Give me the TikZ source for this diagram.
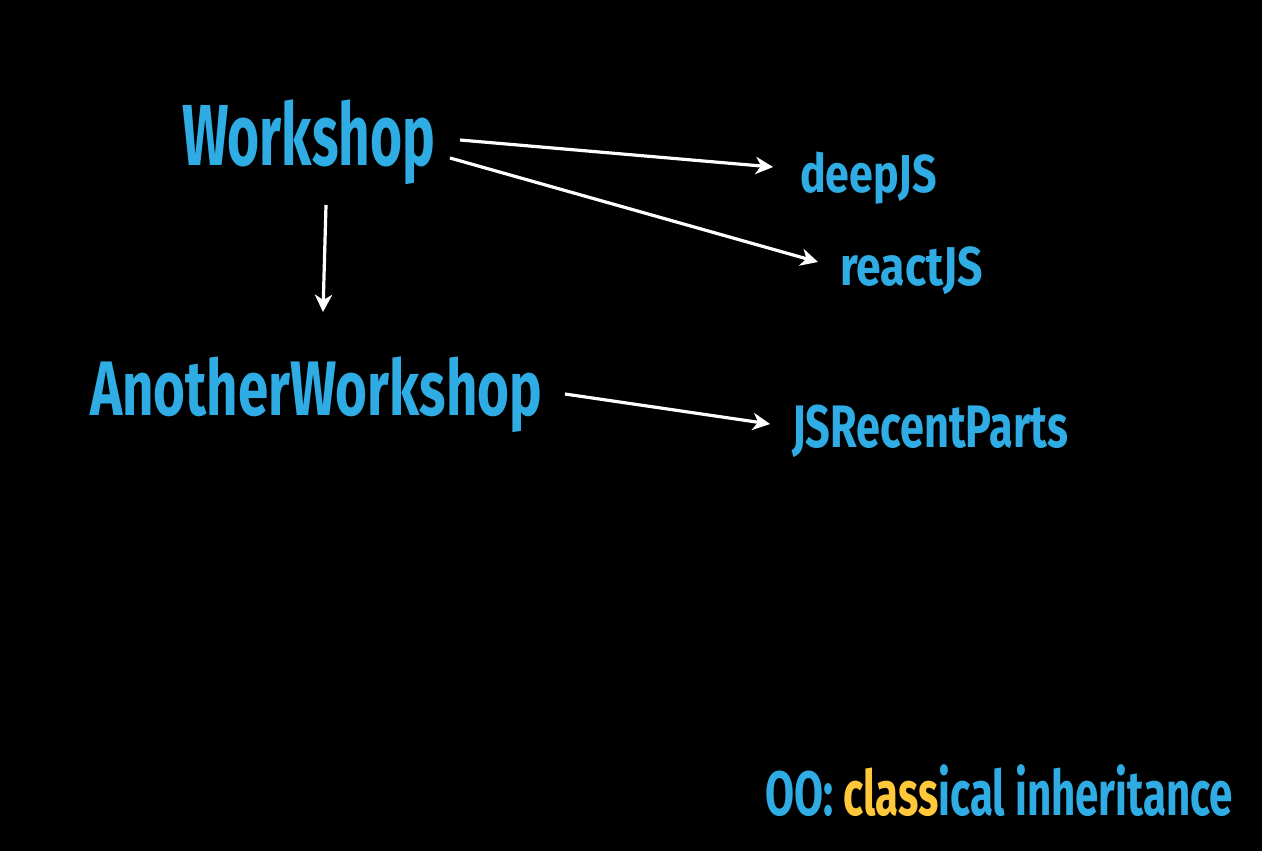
\documentclass[tikz,border=0pt]{standalone}
\usepackage{fontspec}
\setmainfont{Fira Sans}[FakeStretch=0.8]
\usetikzlibrary{arrows.meta,calc}
\definecolor{jsblue}{HTML}{2FACE3}
\definecolor{jsyellow}{HTML}{FFC83A}
\tikzset{
  lbl/.style={inner sep=0pt, outer sep=0pt, text=jsblue, font=\bfseries},
  arr/.style={draw=white, line width=2.4pt, -{Stealth[length=13pt,width=13pt,inset=4pt]}},
}
\newcommand{\fs}[1]{\fontsize{#1}{#1}\selectfont}
\newcommand{\fitw}[2]{\resizebox{#1}{\height}{#2}}
\begin{document}
\begin{tikzpicture}[x=0.75pt,y=-0.75pt]
\useasboundingbox[fill=black] (0,0) rectangle (1262,851);
\node[lbl, anchor=base west] (ws) at (182,165) {\fs{65pt}\fitw{189.75pt}{Workshop}};
\node[lbl, anchor=base west] (deep) at (800,192) {\fs{40pt}\fitw{102.75pt}{deepJS}};
\node[lbl, anchor=base west] (react) at (840,285) {\fs{41pt}\fitw{107.25pt}{reactJS}};
\node[lbl, anchor=base west] (another) at (90,415) {\fs{58pt}\fitw{339pt}{AnotherWorkshop}};
\node[lbl, anchor=base west] (jsr) at (792,447) {\fs{45pt}\fitw{207pt}{JSRecentParts}};
\node[lbl, anchor=base west] (oo) at (765,815) {\fs{47pt}\fitw{351pt}{OO: \textcolor{jsyellow}{class}ical inheritance}};
\draw[arr] ($(ws.base east)+(25,-25)$) -- ($(deep.base west)+(-27,-25)$);
\draw[arr] ($(ws.base east)+(15,-7)$) -- ($(react.base west)+(-22,-23)$);
\draw[arr] ($(ws.base west)+(144,40)$) -- ($(another.base west)+(233,-103)$);
\draw[arr] ($(another.base east)+(23,-21)$) -- ($(jsr.base west)+(-22,-23)$);
\end{tikzpicture}
\end{document}
